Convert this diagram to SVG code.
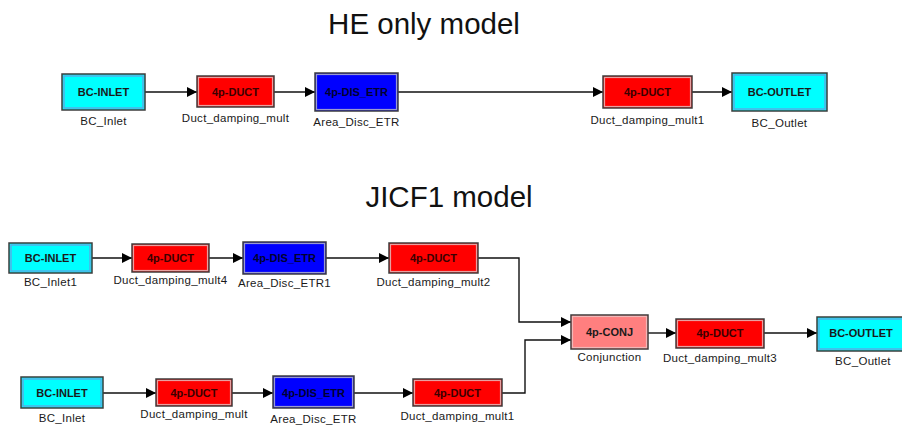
<svg xmlns="http://www.w3.org/2000/svg" width="902" height="427" viewBox="0 0 902 427">
<style>
.bg{fill:#ffffff}
.title{font-family:"Liberation Sans",Arial,sans-serif;font-size:29.5px;fill:#111;text-anchor:middle}
.o{stroke:#3c3c3c;stroke-width:1.5}
.i{fill:none;stroke-width:1.2}
.cyan .o{fill:#00ffff}.cyan .i{stroke:#6a9be0}
.red .o{fill:#ff0000}.red .i{stroke:#e8a0a0}
.blue .o{fill:#0000ff}.blue .i{stroke:#9a9ad0}
.conj .o{fill:#ff7f7f}.conj .i{stroke:#f0b8b8}
.t{font-family:"Liberation Sans",Arial,sans-serif;font-size:11px;font-weight:bold;text-anchor:middle;fill:#1a1a1a}
.red .t{fill:#3a0000}.blue .t{fill:#000030}
.l{font-family:"Liberation Sans",Arial,sans-serif;font-size:11.5px;letter-spacing:0.3px;text-anchor:middle;fill:#1a1a1a}
.c{fill:none;stroke:#111;stroke-width:1.4}
</style>
<defs>
<marker id="ah" markerUnits="userSpaceOnUse" markerWidth="10" markerHeight="10" refX="10" refY="5" orient="auto" viewBox="0 0 10 10">
<path d="M0,0 L10,5 L0,10 z" fill="#000"/>
</marker>
</defs>
<rect class="bg" x="0" y="0" width="902" height="427"/>
<text class="title" x="424" y="34">HE only model</text>
<text class="title" x="449" y="207">JICF1 model</text>

<g id="connectors">
<path class="c" marker-end="url(#ah)" d="M145 92 H197"/>
<path class="c" marker-end="url(#ah)" d="M274 92 H315"/>
<path class="c" marker-end="url(#ah)" d="M398 92 H603"/>
<path class="c" marker-end="url(#ah)" d="M692 92 H732"/>
<path class="c" marker-end="url(#ah)" d="M92 258 H132"/>
<path class="c" marker-end="url(#ah)" d="M209 258 H243"/>
<path class="c" marker-end="url(#ah)" d="M326 258 H389"/>
<path class="c" marker-end="url(#ah)" d="M478 258 H519 V322 H571"/>
<path class="c" marker-end="url(#ah)" d="M103 393 H156"/>
<path class="c" marker-end="url(#ah)" d="M232 393 H273"/>
<path class="c" marker-end="url(#ah)" d="M354 393 H413"/>
<path class="c" marker-end="url(#ah)" d="M502 393 H525 V340 H571"/>
<path class="c" marker-end="url(#ah)" d="M648 333 H676"/>
<path class="c" marker-end="url(#ah)" d="M764 333 H817"/>
</g>

<g id="he_bc_inlet" class="cyan"><rect class="o" x="62" y="74" width="83" height="36"/><rect class="i" x="64" y="76" width="79" height="32"/><text class="t" x="103.5" y="96">BC-INLET</text><text class="l" x="103.5" y="125">BC_Inlet</text></g>
<g id="he_duct" class="red"><rect class="o" x="197" y="76" width="77" height="31"/><rect class="i" x="198.5" y="77.5" width="74" height="28"/><text class="t" x="235.5" y="96">4p-DUCT</text><text class="l" x="235.5" y="122">Duct_damping_mult</text></g>
<g id="he_dis" class="blue"><rect class="o" x="315" y="73" width="83" height="38"/><rect class="i" x="316.5" y="74.5" width="80" height="35"/><text class="t" x="356.5" y="96">4p-DIS_ETR</text><text class="l" x="356.5" y="126">Area_Disc_ETR</text></g>
<g id="he_duct1" class="red"><rect class="o" x="603" y="76" width="89" height="32"/><rect class="i" x="604.5" y="77.5" width="86" height="29"/><text class="t" x="647.5" y="96">4p-DUCT</text><text class="l" x="647.5" y="124">Duct_damping_mult1</text></g>
<g id="he_bc_outlet" class="cyan"><rect class="o" x="732" y="73" width="95" height="38"/><rect class="i" x="734" y="75" width="91" height="34"/><text class="t" x="779.5" y="96">BC-OUTLET</text><text class="l" x="779.5" y="127">BC_Outlet</text></g>

<g id="j_bc_inlet1" class="cyan"><rect class="o" x="9" y="243" width="83" height="30"/><rect class="i" x="11" y="245" width="79" height="26"/><text class="t" x="50.5" y="262">BC-INLET</text><text class="l" x="50.5" y="286">BC_Inlet1</text></g>
<g id="j_duct4" class="red"><rect class="o" x="132" y="244" width="77" height="28"/><rect class="i" x="133.5" y="245.5" width="74" height="25"/><text class="t" x="170.5" y="262">4p-DUCT</text><text class="l" x="170.5" y="284">Duct_damping_mult4</text></g>
<g id="j_dis1" class="blue"><rect class="o" x="243" y="242" width="83" height="32"/><rect class="i" x="244.5" y="243.5" width="80" height="29"/><text class="t" x="284.5" y="262">4p-DIS_ETR</text><text class="l" x="284.5" y="287">Area_Disc_ETR1</text></g>
<g id="j_duct2" class="red"><rect class="o" x="389" y="243" width="89" height="30"/><rect class="i" x="390.5" y="244.5" width="86" height="27"/><text class="t" x="433.5" y="262">4p-DUCT</text><text class="l" x="433.5" y="286">Duct_damping_mult2</text></g>
<g id="j_conj" class="conj"><rect class="o" x="571" y="315" width="77" height="34"/><rect class="i" x="572.5" y="316.5" width="74" height="31"/><text class="t" x="609.5" y="336">4p-CONJ</text><text class="l" x="609.5" y="361">Conjunction</text></g>
<g id="j_duct3" class="red"><rect class="o" x="676" y="319" width="88" height="29"/><rect class="i" x="677.5" y="320.5" width="85" height="26"/><text class="t" x="720" y="337">4p-DUCT</text><text class="l" x="720" y="362">Duct_damping_mult3</text></g>
<g id="j_bc_outlet" class="cyan"><rect class="o" x="817" y="317" width="88" height="34"/><rect class="i" x="819" y="319" width="84" height="30"/><text class="t" x="861" y="337">BC-OUTLET</text><text class="l" x="863" y="365">BC_Outlet</text></g>

<g id="j_bc_inlet" class="cyan"><rect class="o" x="21" y="377" width="82" height="31"/><rect class="i" x="23" y="379" width="78" height="27"/><text class="t" x="62" y="397">BC-INLET</text><text class="l" x="62" y="422">BC_Inlet</text></g>
<g id="j_duct" class="red"><rect class="o" x="156" y="379" width="76" height="27"/><rect class="i" x="157.5" y="380.5" width="73" height="24"/><text class="t" x="194" y="397">4p-DUCT</text><text class="l" x="194" y="418">Duct_damping_mult</text></g>
<g id="j_dis" class="blue"><rect class="o" x="273" y="376" width="81" height="32"/><rect class="i" x="274.5" y="377.5" width="78" height="29"/><text class="t" x="313.5" y="397">4p-DIS_ETR</text><text class="l" x="313.5" y="423">Area_Disc_ETR</text></g>
<g id="j_duct1" class="red"><rect class="o" x="413" y="379" width="89" height="27"/><rect class="i" x="414.5" y="380.5" width="86" height="24"/><text class="t" x="457.5" y="397">4p-DUCT</text><text class="l" x="457.5" y="420">Duct_damping_mult1</text></g>
</svg>
